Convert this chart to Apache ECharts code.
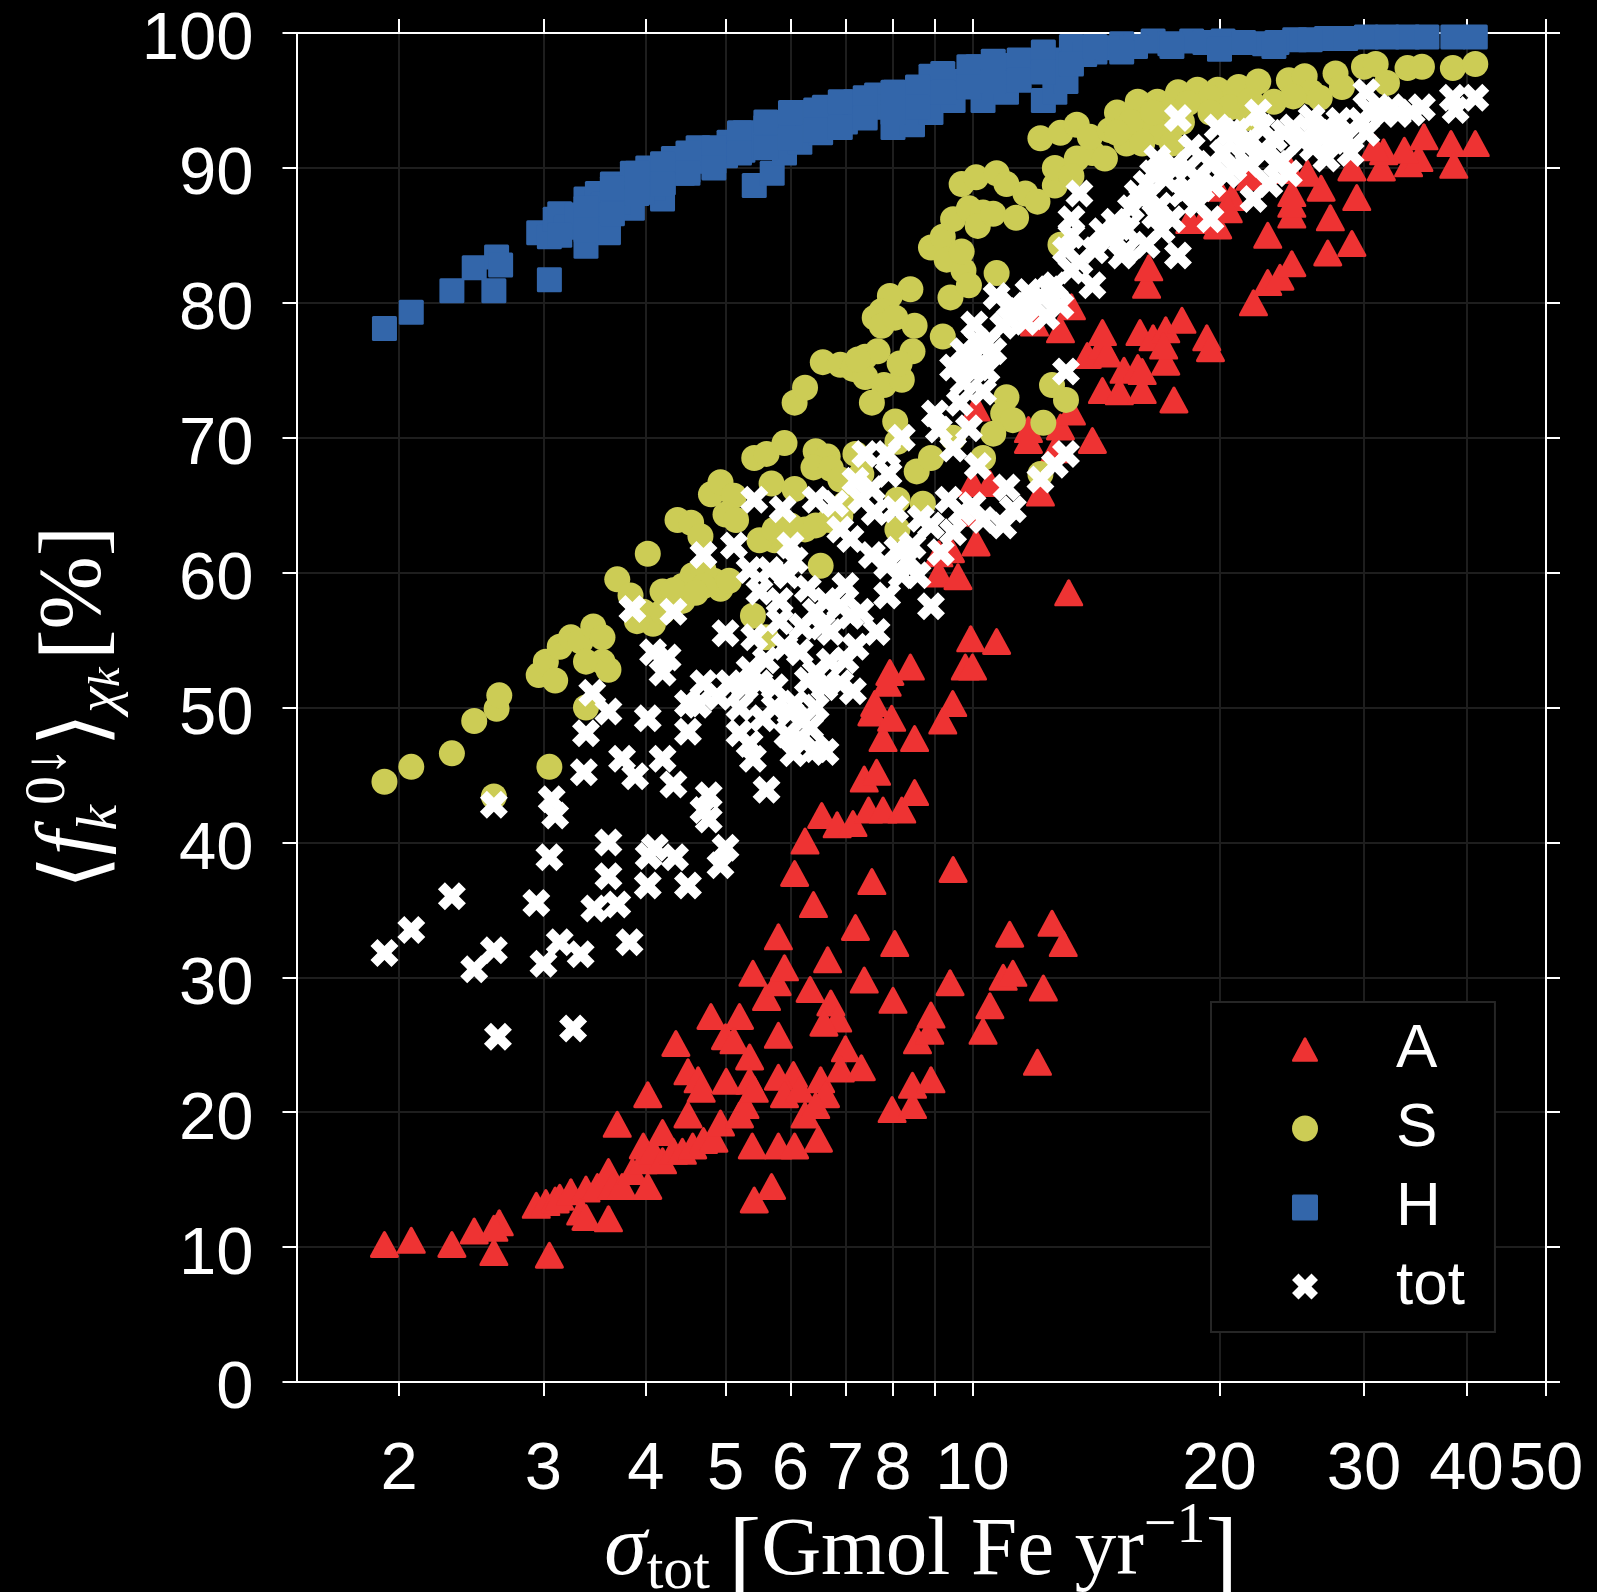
<!DOCTYPE html>
<html><head><meta charset="utf-8">
<style>html,body{margin:0;padding:0;background:#000}#c{width:1597px;height:1592px}</style>
<script src="https://cdn.jsdelivr.net/npm/echarts@6/dist/echarts.min.js"></script>
</head><body><div id="c"></div>
<script>
const xTicks = [2,3,4,5,6,7,8,9,10,20,30,40,50];
const xLabels = [2,3,4,5,6,7,8,10,20,30,40,50];
const seriesA = [[1.92,10.2],[2.07,10.5],[2.32,10.2],[2.47,11.2],[2.61,9.6],[2.65,11.8],[2.61,11.4],[3.05,9.4],[2.94,13.1],[3.02,13.3],[3.1,13.5],[3.14,13.7],[3.24,14.1],[3.38,14.3],[3.33,12.6],[3.38,12.2],[3.6,12.1],[3.49,14.5],[3.6,15.6],[3.64,14.5],[3.74,14.5],[3.69,19.1],[4.02,21.3],[3.85,15.6],[3.97,16.4],[4.02,14.5],[3.97,17.5],[4.08,17.1],[4.19,18.5],[4.19,16.4],[4.32,17.1],[4.35,25.1],[4.5,23],[4.63,22.4],[4.67,21.7],[4.5,19.8],[4.43,17.1],[4.56,17.5],[4.7,17.9],[4.84,18],[4.93,19.2],[4.8,27.1],[5.2,27.1],[5,25.6],[5.12,25.3],[5.35,24.1],[5.01,22.3],[5.35,22.3],[5.2,19.8],[5.28,20.5],[5.42,21.7],[5.42,13.5],[5.69,14.5],[5.39,17.5],[5.8,17.5],[6.07,17.5],[6.49,18],[5.4,30.3],[5.61,28.5],[5.78,29.6],[5.9,30.7],[5.8,33],[5.8,25.7],[6.05,22.8],[5.8,22.6],[5.9,21.3],[6.25,19.8],[6.16,21.7],[6.53,22.4],[6.62,21.3],[6.44,20.5],[6.34,29.1],[6.66,31.3],[6.72,28.1],[6.85,26.9],[6.59,26.6],[7,24.7],[6.9,23.2],[7.32,23.3],[7.38,29.8],[8,28.3],[8.04,32.5],[7.2,33.7],[7.54,37.1],[6.4,35.4],[6.07,37.7],[6.25,40.1],[6.55,42],[6.84,41.3],[7.15,41.4],[7.47,42.4],[7.78,42.4],[8.2,42.4],[8.5,43.7],[7.38,44.7],[7.64,45.2],[7.78,47.7],[8.5,47.7],[7.54,49.6],[7.97,49.2],[7.6,50.3],[7.87,51.8],[7.93,52.6],[8.4,53],[9.2,49],[9.46,50.3],[9.47,38],[7.98,20.2],[8.45,20.5],[8.45,22],[8.9,22.4],[8.57,25.3],[8.87,26],[8.9,27.2],[9.39,29.6],[10.3,26],[10.5,27.9],[10.9,30],[11.2,30.3],[11.1,33.2],[12.2,29.2],[12,23.7],[12.5,34],[12.9,32.5],[9.8,53],[9.95,55.1],[10,53],[10.7,54.9],[13.1,58.5],[9.1,61.4],[9.4,61.7],[9.1,59.9],[9.6,59.7],[10.1,62.2],[10,64.4],[10,66.6],[10.5,66.6],[12.1,65.9],[11.7,69.8],[11.7,70.6],[12.6,69.1],[12.8,70.8],[13.2,71.9],[14,69.8],[10.1,72.2],[14.4,73.5],[15.1,73.4],[16.1,73.5],[17.6,72.8],[15.3,75],[15.9,75.2],[16.1,74.9],[17.2,75.6],[13.8,76.1],[14.4,76.8],[14.6,76.2],[14.4,77.8],[16,77.8],[16.6,77.4],[17.2,78],[18,78.7],[17.1,76.8],[19.3,77.4],[19.5,76.6],[13.2,79.7],[11.9,78.5],[12.8,78],[16.3,81.3],[16.4,82.6],[22,80],[22.9,81.5],[23.7,81.9],[24.5,82.9],[27.1,83.7],[29,84.4],[22.9,85],[24.5,86.5],[24.5,87.3],[27.3,86.3],[29.4,87.8],[19.9,85.7],[19.1,86.1],[31.5,90],[29,90],[34,90.3],[35,90.7],[33.6,91.3],[31.7,91.2],[30.9,91.5],[35.5,92.3],[38.3,91.8],[41,91.8],[38.6,90.2],[24.5,88.1],[26.6,88.5],[25.6,89.6],[21.8,89.3],[20.7,87.8],[19.9,88.5],[20.5,86.9],[18.4,86.1],[24.4,89.8]];
const seriesS = [[1.92,44.5],[2.07,45.6],[2.32,46.6],[2.47,49],[2.63,49.9],[2.65,50.9],[2.61,43.4],[3.05,45.6],[2.96,52.4],[3.02,53.4],[3.1,52],[3.14,54.5],[3.24,55.2],[3.33,54.9],[3.45,56],[3.54,55.2],[3.38,53.4],[3.54,53.4],[3.6,52.8],[3.38,50],[3.69,59.5],[4.02,61.4],[3.83,58.3],[3.97,57.1],[4.08,56.2],[4.19,58.6],[3.9,56.4],[4.32,57.9],[4.43,59],[4.56,59.8],[4.7,60.2],[4.84,59.4],[4.93,58.8],[5.05,59.4],[4.37,63.9],[4.54,63.7],[4.66,62.7],[4.8,65.8],[4.93,66.7],[5.12,65.7],[5,64.3],[5.15,63.9],[5.4,56.8],[5.6,55.2],[5.42,68.5],[5.61,68.8],[5.9,69.6],[5.69,66.6],[5.74,62.4],[5.93,62.8],[6.25,63.2],[6.44,63.5],[6.7,63.9],[7,65.1],[6.53,60.5],[6.07,66.2],[6.44,69],[6.66,68.6],[6.4,67.8],[6.72,67.7],[6.9,66.9],[7.32,67.3],[7.2,68.8],[6.07,72.6],[6.25,73.7],[6.57,75.6],[6.9,75.4],[7.15,75.1],[7.4,76],[7.66,76.4],[7.4,74.5],[7.8,73.9],[8.2,74.3],[7.54,72.6],[8.45,76.4],[8.5,78.3],[8.4,81],[7.93,80.5],[7.75,79.4],[7.6,78.9],[7.75,78.3],[8.05,78.9],[8.05,71.2],[8.1,69.7],[8.1,65.4],[8.1,63.2],[8.55,67.5],[8.9,68.5],[8.7,65.1],[9.2,77.5],[9.7,88.8],[10.1,89.3],[10.7,89.6],[11,88.8],[11.6,88.1],[12,87.5],[12.6,88.7],[8.9,84.1],[9.2,84.9],[9.47,86.2],[9.9,87],[10.3,86.7],[10.15,85.7],[10.6,86.6],[11.3,86.3],[9.3,83.2],[9.75,82.4],[9.4,80.4],[9.9,81.3],[10.7,82.2],[12.1,92.2],[12.8,92.6],[13.4,93.2],[12.6,90],[13.4,90.7],[13.2,89.4],[14,91.1],[14.5,90.7],[15,94.1],[15.9,94.9],[16.8,94.9],[16.3,93],[15.4,91.8],[17.8,95.6],[18.8,95.8],[19.9,95.8],[21.1,96],[22.3,96.4],[19.5,95.2],[24.3,96.5],[25.4,96.8],[27.7,97],[30,97.5],[31,97.7],[33.9,97.4],[35.3,97.5],[38.5,97.4],[41,97.7],[17,92.6],[15.6,93.4],[23.3,94.9],[25.9,95.6],[12.8,84.3],[12.5,73.9],[13,72.8],[12.2,71.1],[11,73],[10.9,71.8],[11.2,71.3],[10.6,70.3],[10.3,68.5],[9.47,70],[12.1,67.3],[13.9,92.3],[14.7,92.8],[17.5,94.3],[18.3,94.8],[20.6,94.5],[21.8,95],[24.6,95.3],[28.2,96],[26.5,95.2],[32,96.3],[4.19,57.1],[4.43,57.9],[4.7,59],[5.5,62.4],[5.74,63.2],[16.6,94.1],[18,93.4],[19.5,94.1],[17.5,91.8],[21.7,93.7],[15,92.6],[16.1,91.8],[4.32,58.7],[4.6,58.5],[6,63.5],[6.9,64.2],[9.7,83.8],[8.15,75.5],[7.25,75.8]];
const seriesH = [[1.92,78.1],[2.07,79.3],[2.32,80.9],[2.47,82.6],[2.61,80.9],[2.63,83.4],[2.66,82.8],[3.05,81.7],[2.96,85.2],[3.05,84.9],[3.1,86.2],[3.14,86.6],[3.38,84.2],[3.6,85.2],[3.38,87.7],[3.49,88.1],[3.64,88.8],[3.85,87],[3.85,89.6],[4.02,90],[4.19,87.7],[4.08,88.5],[4.32,90.7],[4.43,89.6],[4.63,91.5],[4.84,90.5],[5.05,91.9],[5.42,88.7],[5.7,89.6],[5.28,92.6],[5.6,93],[5.9,92.8],[6.25,94.1],[6.6,94.5],[5.9,91.1],[6.16,91.9],[6.53,92.6],[7,93.4],[7.2,94.9],[7.64,95.4],[8,93],[8.45,93.2],[8.05,95.6],[8.9,94.1],[8.9,96.8],[9.47,95],[10.15,97.5],[10.3,95],[11,95.6],[11.9,97.5],[12.2,95],[12.6,95.6],[13,96.4],[13.2,99],[14.1,98.6],[15.2,99.2],[16.6,99.4],[18.5,99.4],[20.2,99.4],[22.7,99.2],[24.7,99.5],[27,99.6],[30.2,99.7],[33.9,99.7],[38.5,99.7],[41,99.7],[3.2,85.6],[3.3,86.5],[3.45,86.9],[3.55,87.3],[3.7,87.5],[3.95,88.2],[4.2,88.9],[4.5,89.8],[4.75,90.5],[5,90.9],[5.25,91.3],[5.5,91.8],[5.75,92.3],[6,93],[6.3,93],[6.7,93.6],[7.3,94],[7.7,94.5],[8.2,94.9],[8.6,95.6],[9.2,96],[9.7,96.4],[10.7,97.1],[11.3,97.6],[12.4,98],[12.9,97.7],[13.7,98.4],[14.6,98.9],[15.8,99],[17.4,99.2],[19.2,99.3],[21.4,99.3],[23.5,99.3],[25.8,99.5],[28.5,99.6],[32,99.7],[35.8,99.7],[3.14,85],[3.38,87],[3.38,85.4],[3.64,88.5],[3.64,86.6],[3.9,89.6],[3.9,88.1],[4.19,90.3],[4.19,88.8],[4.5,91.1],[4.5,89.6],[4.84,91.5],[4.84,90],[5.2,92.6],[5.2,91.1],[5.6,93.4],[5.6,91.5],[6,94.1],[6,92.2],[6.44,94.3],[6.44,92.8],[6.9,94.9],[6.9,93],[7.4,95.2],[7.4,93.7],[8,95.6],[8,94.1],[8.57,96],[8.57,94.5],[9.2,97],[9.2,95.6],[9.9,97.5],[9.9,96],[10.6,97.9],[10.6,96.4],[11.4,98],[11.4,96.5],[12.2,98.6],[12.2,97.1],[13.2,97.7],[14.1,99],[15.2,98.6],[17.5,99],[20,98.8],[23.3,99]];
const seriesTot = [[1.92,31.8],[2.07,33.5],[2.32,36],[2.47,30.6],[2.61,32],[2.64,25.6],[2.61,42.8],[2.94,35.5],[3,31],[3.05,38.9],[3.07,43.2],[3.1,42],[3.14,32.6],[3.26,26.2],[3.33,31.7],[3.36,45.2],[3.38,48.1],[3.44,51.1],[3.6,49.7],[3.46,35.1],[3.6,37.5],[3.6,40],[3.69,35.4],[3.82,32.6],[3.74,46.2],[3.88,44.9],[3.85,57.3],[4.02,49.2],[4.19,46.2],[4.32,44.3],[4.03,39],[4.02,36.8],[4.1,39.6],[4.34,38.9],[4.5,36.8],[4.5,48.2],[4.19,52.6],[4.08,54.1],[4.25,53.7],[4.5,50.3],[4.7,51.8],[4.63,50.2],[4.77,43.5],[4.7,42.4],[4.77,41.7],[4.93,38.3],[5,39.6],[5,55.5],[4.7,61.3],[4.32,57.1],[5.12,62],[5.42,65.4],[5.35,60.2],[5.5,58.6],[5.66,60.2],[5.82,57.9],[5.87,64.7],[5.42,55.2],[5.82,56.4],[5.05,51.8],[5.28,51.5],[5.2,50],[5.2,48.1],[5.4,46.2],[5.61,43.9],[5.35,47.3],[5.5,51.8],[5.74,50],[6,49.6],[5.74,51.5],[6.07,50.3],[6.44,50],[6.16,47.7],[6.05,46.6],[6.44,46.9],[6.62,46.7],[6.34,48.5],[5.9,54.5],[6.16,54.1],[6.44,52.6],[6.7,53.4],[7,53.5],[7.15,51.2],[6.44,57.1],[6.62,57.9],[7,59],[6.72,55.6],[7.1,56.8],[7.64,55.6],[7.3,57.1],[6.07,60.9],[6.44,65.4],[6.8,65.1],[6.9,63.2],[7.32,65.4],[7.54,66.2],[7.4,68.8],[7.87,68.8],[8.2,70],[7.54,61.3],[7.87,60.5],[8.1,61.7],[8.45,62],[7.87,58.3],[8.2,59.8],[8.9,57.5],[8.57,59.8],[8.9,63.5],[9.35,65.4],[9.47,63],[9,71.8],[9.47,69.2],[9.9,70.7],[9.47,75.2],[9.75,74.1],[10.15,75.2],[10.6,76.4],[9.75,76.4],[10.3,73.4],[10.7,80.5],[10.9,78.3],[11.6,78.6],[12.1,80.5],[12.6,81.3],[12.8,79.8],[11.4,79.4],[10.15,77.1],[13.2,85],[13,83.9],[13.2,86.2],[13.5,88.1],[13,74.9],[13,68.8],[12.6,68],[12.1,66.9],[11,66.3],[11.2,64.7],[10.9,63.5],[10.3,63.9],[13.2,82.4],[14,81.3],[14.1,83.9],[14.7,84.7],[15.4,85.4],[16.3,84.3],[15.2,83.5],[17.8,83.5],[17,85.4],[15.9,88.1],[16.6,89.6],[16.8,90.7],[17.8,93.7],[18,88.1],[18.8,89.2],[19.5,90.3],[19.9,93],[21.4,91.8],[19.5,86.2],[18.8,87.3],[17.5,86.2],[22,87.7],[23,88.8],[24.3,89.6],[22.3,94.1],[23.3,92.2],[24.6,93],[25.9,93.7],[27,93],[28.5,92.2],[27,90.7],[28.9,91.1],[30.2,95.6],[30.7,94.1],[32.4,94.5],[34.3,94.1],[35.3,94.5],[38.5,95.2],[38.8,94.3],[41,95.2],[30.2,92.6],[20.8,90],[18.5,91.5],[15.4,83.9],[16.1,87.7],[17.2,89.2],[18.3,90],[20.2,91.1],[21.7,90.3],[22.7,91.1],[24,92.6],[11.9,79.9],[12.4,81],[10.4,77],[9.9,75.5],[11.1,78.8],[16.7,86.5],[15.1,85.6],[19,88.5],[21,92.7],[23.8,90.5],[25.2,92],[26.4,92.6],[29.7,93.5],[31.5,94.3],[33,94],[28,93.5],[6.2,56],[6.3,58.8],[6.55,56],[6.9,57.5],[7.2,54.5],[6.3,52],[6.6,51.5],[6.9,51.8],[6.2,49],[5.95,48],[5.55,49.2],[5.35,52.8],[4.9,50.8],[5.6,53.5],[5.95,59.8],[6,62],[7.1,62.5],[7.6,64.5],[7.2,66.8],[7.9,67.3],[8.05,64.7],[8.35,61],[8.65,64],[9.15,61.5],[9.7,64.5],[10,65],[10.15,67.9],[9.1,70.6],[9.65,72.6],[10.05,78.4],[10.4,75],[11.2,79.8],[11.7,80.8],[12.3,79],[13.5,83],[14.4,85.3],[14.9,86],[15.6,87],[16.3,88.8],[16.9,87.2],[17.6,90.2],[18.3,88.5],[19.6,88.8],[20.4,89.5],[20.6,92.6],[21.8,92],[22.5,93],[23.5,90.3],[26,91.5],[27.5,92]];

const TRI='path://M45 5Q50 -2 55 5L99 87Q103 96 94 96L6 96Q-3 96 1 87Z';
const SQR='path://M6 0H94Q100 0 100 6V94Q100 100 94 100H6Q0 100 0 94V6Q0 0 6 0Z';
const CRS='path://M25 0L50 25L75 0L100 25L75 50L100 75L75 100L50 75L25 100L0 75L25 50L0 25Z';
const WHITE='#fff', GRID='#1e1e1e';
const sans='"Liberation Sans",Arial,sans-serif', serif='"Liberation Serif","DejaVu Serif",serif';

function logAxis(extra){return Object.assign({type:'log',logBase:10,min:1.5,max:50,
  axisLine:{show:true,onZero:false,lineStyle:{color:WHITE,width:2}},
  axisTick:{show:true,inside:false,length:14,customValues:xTicks,lineStyle:{color:WHITE,width:2}},
  minorTick:{show:false},minorSplitLine:{show:false}},extra);}
function valAxis(extra){return Object.assign({type:'value',min:0,max:100,interval:10,
  axisLine:{show:true,onZero:false,lineStyle:{color:WHITE,width:2}},
  axisTick:{show:true,inside:false,length:14,lineStyle:{color:WHITE,width:2}}},extra);}

const chart=echarts.init(document.getElementById('c'),null,{renderer:'canvas'});
chart.setOption({
  backgroundColor:'#000',animation:false,
  grid:{left:296.5,right:51,top:33,bottom:210,containLabel:false,outerBoundsMode:'none'},
  legend:{orient:'vertical',left:1211,top:1002,
    data:[{name:'A',icon:TRI},{name:'S',icon:'circle'},{name:'H',icon:SQR},{name:'tot',icon:CRS}],
    backgroundColor:'#000',borderColor:'#262626',borderWidth:2,borderRadius:0,
    padding:[13,30,11,81],itemWidth:26,itemHeight:26,itemGap:10,
    textStyle:{color:WHITE,fontFamily:sans,fontSize:62,padding:[0,0,0,73],lineHeight:69},
    selectedMode:false,z:10},
  xAxis:[
    logAxis({position:'bottom',
      name:'{s|σ}{t|tot}{g| }{b|[}{n|Gmol Fe yr}{e|−1}{b|]}',nameLocation:'middle',nameGap:116,nameMoveOverlap:false,
      nameTextStyle:{color:WHITE,fontFamily:serif,rich:{
        s:{fontFamily:serif,fontStyle:'italic',fontSize:86,color:WHITE,verticalAlign:'bottom',padding:[0,0,14,0]},
        t:{fontFamily:serif,fontSize:60,color:WHITE,verticalAlign:'bottom',padding:[0,0,6,0]},
        g:{fontFamily:serif,fontSize:74,color:WHITE},
        b:{fontFamily:serif,fontSize:98,color:WHITE,verticalAlign:'bottom',padding:[0,0,0,0]},
        n:{fontFamily:serif,fontSize:83,color:WHITE,verticalAlign:'bottom',padding:[0,0,14,0]},
        e:{fontFamily:serif,fontSize:58,color:WHITE,verticalAlign:'bottom',padding:[0,0,52,0]}
      }},
      axisLabel:{show:true,customValues:xLabels,color:WHITE,fontFamily:sans,fontSize:67,margin:55,hideOverlap:false,showMinLabel:true,showMaxLabel:true,formatter:v=>String(Math.round(v))},
      splitLine:{show:true,lineStyle:{color:GRID,width:2}}}),
    logAxis({position:'top',axisLabel:{show:false},splitLine:{show:false}})
  ],
  yAxis:[
    valAxis({position:'left',
      name:'{b|⟨}{f|f}{k|k}{u|0↓}{b|⟩}{x|χ}{k2|k}{g| }{c|[}{p|%}{c|]}',nameLocation:'middle',nameGap:167,nameRotate:90,nameMoveOverlap:false,
      nameTextStyle:{color:WHITE,fontFamily:serif,rich:{
        b:{fontFamily:serif,fontSize:88,color:WHITE,verticalAlign:'bottom',padding:[0,0,6,0]},
        f:{fontFamily:serif,fontStyle:'italic',fontSize:88,color:WHITE,verticalAlign:'bottom',padding:[0,0,12,0]},
        k:{fontFamily:serif,fontStyle:'italic',fontSize:58,color:WHITE,verticalAlign:'bottom',padding:[0,0,0,0]},
        u:{fontFamily:serif,fontSize:58,color:WHITE,verticalAlign:'bottom',padding:[0,0,52,0]},
        x:{fontFamily:serif,fontStyle:'italic',fontSize:58,color:WHITE,verticalAlign:'bottom',padding:[0,0,0,0]},
        k2:{fontFamily:serif,fontStyle:'italic',fontSize:44,color:WHITE,verticalAlign:'bottom',padding:[0,0,0,0]},
        g:{fontFamily:serif,fontSize:30,color:WHITE},
        c:{fontFamily:serif,fontSize:92,color:WHITE,verticalAlign:'bottom',padding:[0,0,6,0]},
        p:{fontFamily:serif,fontSize:88,color:WHITE,verticalAlign:'bottom',padding:[0,0,10,0]}
      }},
      axisLabel:{show:true,color:WHITE,fontFamily:sans,fontSize:67,margin:43,verticalAlign:'top',lineHeight:16},
      splitLine:{show:true,lineStyle:{color:GRID,width:2}}}),
    valAxis({position:'right',axisLabel:{show:false},splitLine:{show:false}})
  ],
  series:[
    {name:'A',type:'scatter',symbol:TRI,symbolSize:[29,27],data:seriesA,itemStyle:{color:'#ee3333',opacity:1},z:2},
    {name:'S',type:'scatter',symbol:'circle',symbolSize:26,data:seriesS,itemStyle:{color:'#cccc55',opacity:1},z:3},
    {name:'H',type:'scatter',symbol:SQR,symbolSize:25,data:seriesH,itemStyle:{color:'#3366aa',opacity:1},z:4},
    {name:'tot',type:'scatter',symbol:CRS,symbolSize:28,data:seriesTot,itemStyle:{color:'#ffffff',opacity:1},z:5}
  ]
});
</script></body></html>
